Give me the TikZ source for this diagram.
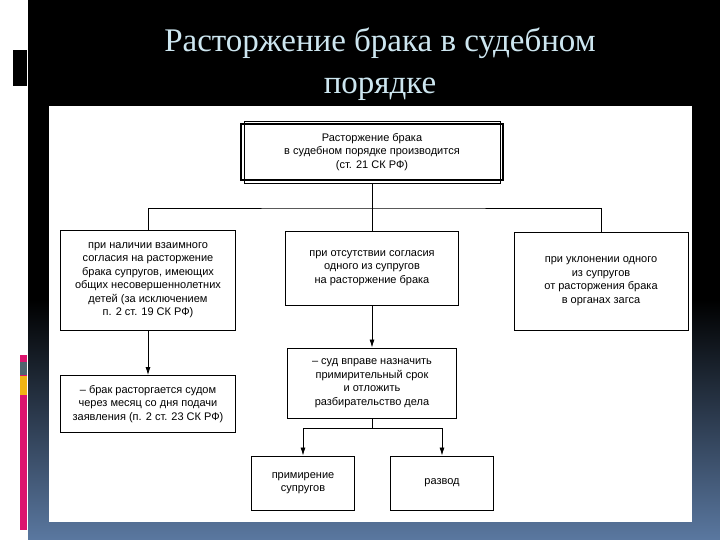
\documentclass[tikz,border=0pt]{standalone}
\usepackage{fontspec}
\setmainfont{Liberation Sans}
\newfontfamily\titlefont{Liberation Serif}
\usetikzlibrary{arrows.meta}
\definecolor{bgblue}{RGB}{90,120,160}
\definecolor{pinkc}{RGB}{220,20,110}
\definecolor{greyc}{RGB}{80,100,110}
\definecolor{yelc}{RGB}{240,180,20}
\definecolor{titlec}{RGB}{205,230,240}
\begin{document}
\begin{tikzpicture}[x=1pt,y=-1pt,
  bx/.style={draw,line width=0.9pt,align=center,font=\fontsize{11}{13.5}\selectfont,inner sep=2pt},
  ar/.style={-{Latex[length=8pt,width=5pt]},line width=0.8pt}]
\useasboundingbox (0,0) rectangle (720,540);
\fill[white] (0,0) rectangle (720,540);
\fill[black] (28,0) rectangle (720,300);
\shade[top color=black,bottom color=bgblue] (28,300) rectangle (720,540);
\fill[black] (13,50) rectangle (27,86);
\fill[pinkc] (20,355) rectangle (27,530);
\fill[greyc] (20,362) rectangle (27,375);
\fill[yelc] (20,376) rectangle (27,395);
\fill[white] (49,106) rectangle (692,522);
\node[text=titlec,font=\titlefont\fontsize{33}{42}\selectfont,align=center] (title) at (380,64) {Расторжение брака в судебном\\порядке};
\node[bx,line width=0.6pt,minimum width=256,minimum height=62] (top) at (372,152) {Расторжение брака\\в судебном порядке производится\\(ст. 21 СК РФ)};
\draw[line width=1.8pt] ([shift={(-3,3)}]top.north west) rectangle ([shift={(3,-3)}]top.south east);
\node[bx,minimum width=175,minimum height=100] (l1) at (148,280) {при наличии взаимного\\согласия на расторжение\\брака супругов, имеющих\\общих несовершеннолетних\\детей (за исключением\\п. 2 ст. 19 СК РФ)};
\node[bx,minimum width=173,minimum height=74] (m1) at (372,268) {при отсутствии согласия\\одного из супругов\\на расторжение брака};
\node[bx,minimum width=174,minimum height=98] (r1) at (601,281) {при уклонении одного\\из супругов\\от расторжения брака\\в органах загса};
\node[bx,minimum width=175,minimum height=57] (l2) at (148,404) {– брак расторгается судом\\через месяц со дня подачи\\заявления (п. 2 ст. 23 СК РФ)};
\node[bx,minimum width=169,minimum height=70] (m2) at (372,383) {– суд вправе назначить\\примирительный срок\\и отложить\\разбирательство дела};
\node[bx,minimum width=103,minimum height=54] (b1) at (303,483) {примирение\\супругов};
\node[bx,minimum width=103,minimum height=54] (b2) at (442,483) {развод};
\coordinate (j) at (372,208);
\draw[line width=0.8pt] (top.south) -- (j);
\draw[line width=0.8pt] (l1.north) |- (j) -| (r1.north);
\draw[line width=0.8pt] (j) -- (m1.north);
\draw[ar] (l1) -- (l2);
\draw[ar] (m1) -- (m2);
\coordinate (k) at (372,428);
\draw[line width=0.8pt] (m2.south) -- (k);
\draw[ar] (k) -| (b1.north);
\draw[ar] (k) -| (b2.north);
\end{tikzpicture}
\end{document}
